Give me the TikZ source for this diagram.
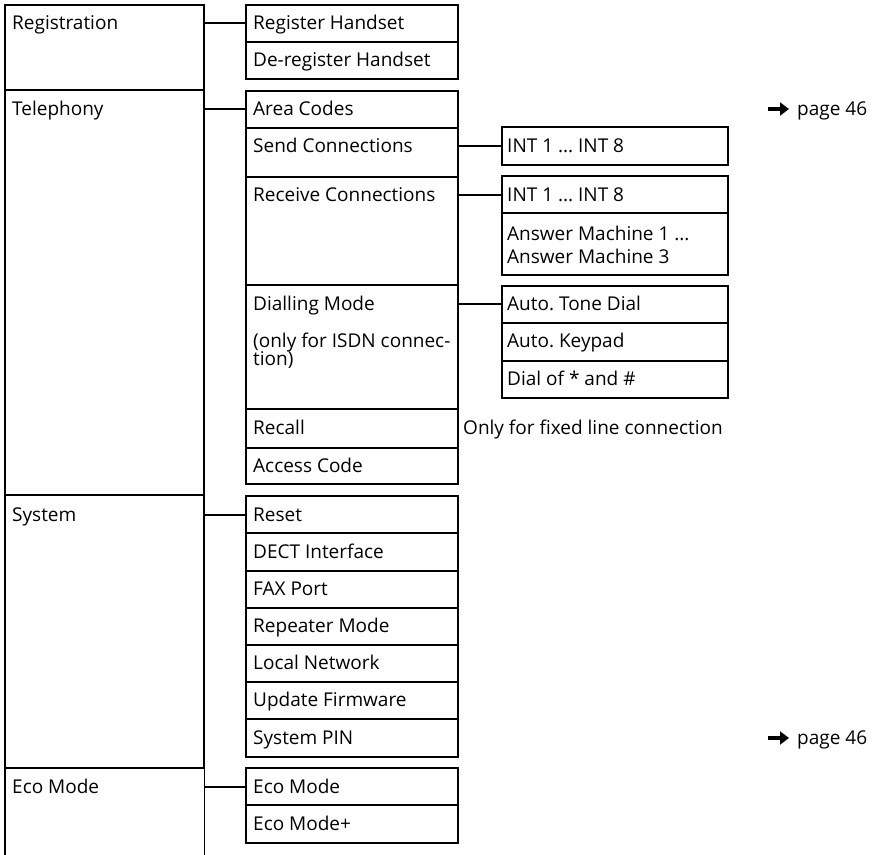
\documentclass[tikz,border=0pt]{standalone}
\usepackage{fontspec}
\setmainfont{Open Sans}
\usetikzlibrary{arrows.meta}
\begin{document}
\frenchspacing
\begin{tikzpicture}[x=1pt,y=-1pt,
  every node/.style={font=\fontsize{19}{21}\selectfont},
  cell/.style={draw,line width=1.1pt,anchor=north west,inner sep=0pt,outer sep=0pt},
  lbl/.style={anchor=base west,inner sep=0pt,text height=13pt,text depth=1pt},
  conn/.style={line width=1.1pt},
  pgarrow/.style={line width=3.2pt,-{Triangle[length=9pt,width=13pt]}}]
\useasboundingbox (0,0) rectangle (878,854);
% ---------- left column ----------
\node[cell,minimum width=199pt,minimum height=85pt] (regL) at (5,5) {};
\node[cell,minimum width=199pt,minimum height=405pt] (telL) at (5,90) {};
\node[cell,minimum width=199pt,minimum height=273pt] (sysL) at (5,495) {};
\node[anchor=north west,inner sep=0pt,minimum width=199pt,minimum height=90pt] (ecoL) at (5,768) {};
\draw[conn] (ecoL.south west) -- (ecoL.north west) -- (ecoL.north east) -- (ecoL.south east);
\node[lbl] (regLT) at (12,29) {Registration};
\node[lbl] (telLT) at (12,115) {Telephony};
\node[lbl] (sysLT) at (12,521) {System};
\node[lbl] (ecoLT) at (12,793) {Eco Mode};
% ---------- middle column ----------
\node[cell,minimum width=212pt,minimum height=37pt] (rh) at (246,5) {};
\node[cell,minimum width=212pt,minimum height=37pt] (drh) at (246,42) {};
\node[lbl] (rhT) at (253,29) {Register Handset};
\node[lbl] (drhT) at (253,66) {De-register Handset};

\node[cell,minimum width=212pt,minimum height=37pt] (ac) at (246,91) {};
\node[cell,minimum width=212pt,minimum height=49pt] (sc) at (246,128) {};
\node[cell,minimum width=212pt,minimum height=108pt] (rc) at (246,177) {};
\node[cell,minimum width=212pt,minimum height=124pt] (dm) at (246,285) {};
\node[cell,minimum width=212pt,minimum height=39pt] (rcl) at (246,409) {};
\node[cell,minimum width=212pt,minimum height=36pt] (acc) at (246,448) {};
\node[lbl] (acT) at (253,115) {Area Codes};
\node[lbl] (scT) at (253,152) {Send Connections};
\node[lbl] (rcT) at (253,201) {Receive Connections};
\node[lbl] (dmT) at (253,310) {Dialling Mode};
\node[lbl] (dmN1) at (253,347) {(only for ISDN connec-};
\node[lbl] (dmN2) at (253,365) {tion)};
\node[lbl] (rclT) at (253,434) {Recall};
\node[lbl] (accT) at (253,472) {Access Code};

\node[cell,minimum width=212pt,minimum height=37pt] (rs) at (246,496) {};
\node[cell,minimum width=212pt,minimum height=38pt] (dect) at (246,533) {};
\node[cell,minimum width=212pt,minimum height=37pt] (fax) at (246,571) {};
\node[cell,minimum width=212pt,minimum height=37pt] (rep) at (246,608) {};
\node[cell,minimum width=212pt,minimum height=37pt] (ln) at (246,645) {};
\node[cell,minimum width=212pt,minimum height=37pt] (uf) at (246,682) {};
\node[cell,minimum width=212pt,minimum height=38pt] (pin) at (246,719) {};
\node[lbl] (rsT) at (253,521) {Reset};
\node[lbl] (dectT) at (253,558) {DECT Interface};
\node[lbl] (faxT) at (253,595) {FAX Port};
\node[lbl] (repT) at (253,632) {Repeater Mode};
\node[lbl] (lnT) at (253,669) {Local Network};
\node[lbl] (ufT) at (253,706) {Update Firmware};
\node[lbl] (pinT) at (253,744) {System PIN};

\node[cell,minimum width=212pt,minimum height=37pt] (em) at (246,768) {};
\node[cell,minimum width=212pt,minimum height=38pt] (emp) at (246,805) {};
\node[lbl] (emT) at (253,793) {Eco Mode};
\node[lbl] (empT) at (253,830) {Eco Mode+};
% ---------- right column ----------
\node[cell,minimum width=226pt,minimum height=38pt] (int1) at (502,127) {};
\node[lbl] (int1T) at (507,152) {INT 1 ... INT 8};
\node[cell,minimum width=226pt,minimum height=37pt] (int2) at (502,176) {};
\node[cell,minimum width=226pt,minimum height=62pt] (am) at (502,213) {};
\node[lbl] (int2T) at (507,201) {INT 1 ... INT 8};
\node[lbl] (amT1) at (507,240) {Answer Machine 1 ...};
\node[lbl] (amT2) at (507,263) {Answer Machine 3};
\node[cell,minimum width=226pt,minimum height=37pt] (atd) at (502,286) {};
\node[cell,minimum width=226pt,minimum height=38pt] (akp) at (502,323) {};
\node[cell,minimum width=226pt,minimum height=37pt] (dsh) at (502,361) {};
\node[lbl] (atdT) at (507,310) {Auto. Tone Dial};
\node[lbl] (akpT) at (507,347) {Auto. Keypad};
\node[lbl] (dshT) at (507,385) {Dial of * and \#};
\node[lbl] (fixT) at (463,434) {Only for fixed line connection};
% page references
\node[lbl] (pg1) at (797,115) {page 46};
\node[lbl] (pg2) at (797,744) {page 46};
\coordinate (pa1) at (768,109);
\coordinate (pa2) at (768,738);
\draw[pgarrow] (pa1) -- ([xshift=-8pt]pg1.west);
\draw[pgarrow] (pa2) -- ([xshift=-8pt]pg2.west);
% ---------- connectors ----------
\draw[conn] (regL.east |- regLT.west) -- (rh.west |- regLT.west);
\draw[conn] (telL.east |- telLT.west) -- (ac.west |- telLT.west);
\draw[conn] (sysL.east |- rsT.west) -- (rs.west |- rsT.west);
\draw[conn] (ecoL.east |- emT.west) -- (em.west |- emT.west);
\draw[conn] (sc.east |- scT.west) -- (int1.west |- scT.west);
\draw[conn] (rc.east |- rcT.west) -- (int2.west |- rcT.west);
\draw[conn] (dm.east |- dmT.west) -- (atd.west |- dmT.west);
\end{tikzpicture}
\end{document}
